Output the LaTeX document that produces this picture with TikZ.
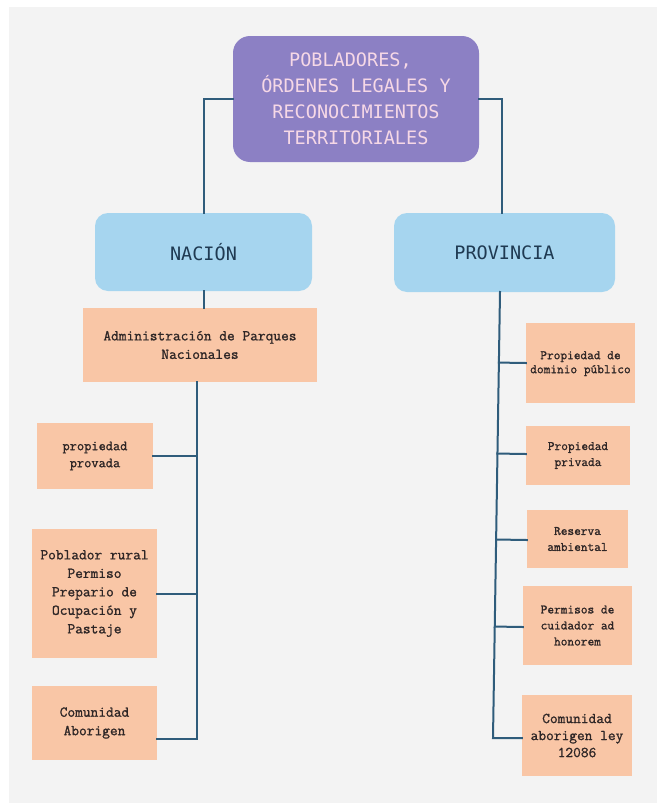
\documentclass[tikz,border=0pt]{standalone}
\usepackage{fontspec}
\usetikzlibrary{calc}
\newfontfamily\headfont{DejaVu Sans Mono}
\newfontfamily\boxfont{Latin Modern Mono}[FakeBold=1.2]
\definecolor{bggray}{HTML}{F3F3F3}
\definecolor{purplebox}{HTML}{8C80C4}
\definecolor{pinktext}{HTML}{F6D8E6}
\definecolor{bluebox}{HTML}{A6D5EF}
\definecolor{navytext}{HTML}{1F3A52}
\definecolor{salmon}{HTML}{F9C6A6}
\definecolor{boxtext}{HTML}{2E2626}
\definecolor{linecol}{HTML}{2F5C7B}
\tikzset{
  topbox/.style={fill=purplebox, rounded corners=17pt, text=pinktext, align=center,
    font=\headfont\fontsize{18.5}{26}\selectfont, inner sep=0pt},
  levelbox/.style={fill=bluebox, rounded corners=13pt, text=navytext, align=center,
    font=\headfont\fontsize{18.5}{22}\selectfont, inner sep=0pt},
  leafbox/.style={fill=salmon, text=boxtext, align=center, inner sep=0pt,
    font=\boxfont\fontsize{15}{18.5}\selectfont},
  smallleaf/.style={leafbox, font=\boxfont\fontsize{13}{16}\selectfont},
  conn/.style={draw=linecol, line width=2pt, line cap=rect}
}
\begin{document}
\begin{tikzpicture}[x=1pt,y=-1pt]
\useasboundingbox (0,0) rectangle (657,803);
\fill[white] (0,0) rectangle (657,803);
\fill[bggray] (9,7) rectangle (657,803);

\coordinate (lt) at (197,382);
\coordinate (lb) at (197,739);
\coordinate (rt) at (500,292);
\coordinate (rb) at (493,738);

\node[topbox, minimum width=246pt, minimum height=126pt] (top) at (356,99)
  {POBLADORES,\phantom{,}\\ÓRDENES LEGALES Y\\RECONOCIMIENTOS\\TERRITORIALES};
\node[levelbox, minimum width=217pt, minimum height=78pt] (nacion) at (203.5,252) {NACIÓN};
\node[levelbox, minimum width=221pt, minimum height=79pt] (provincia) at (504.5,252.5) {PROVINCIA};
\node[leafbox, minimum width=234pt, minimum height=74pt] (admin) at (200,345)
  {Administración de Parques\\Nacionales};

\node[leafbox, minimum width=116pt, minimum height=66pt, font=\boxfont\fontsize{14}{17}\selectfont] (lp) at (95,456) {propiedad\\provada};
\node[leafbox, minimum width=125pt, minimum height=129pt] (lpob) at (94.5,593.5)
  {Poblador rural\\Permiso\\Prepario de\\Ocupación y\\Pastaje};
\node[leafbox, minimum width=125pt, minimum height=74pt] (lcom) at (94.5,723) {Comunidad\\Aborigen};

\node[smallleaf, minimum width=109pt, minimum height=80pt] (r1) at (580.5,363) {\raisebox{5pt}{\begin{tabular}{@{}c@{}}Propiedad de\\[-2pt]dominio público\end{tabular}}};
\node[smallleaf, minimum width=104pt, minimum height=59pt] (r2) at (578,455.5) {Propiedad\\privada};
\node[smallleaf, minimum width=101pt, minimum height=58pt] (r3) at (577.5,539) {Reserva\\ambiental};
\node[smallleaf, minimum width=109pt, minimum height=79pt] (r4) at (577.5,625.5) {Permisos de\\cuidador ad\\honorem};
\node[leafbox, minimum width=110pt, minimum height=81pt, font=\boxfont\fontsize{15}{17}\selectfont] (r5) at (577,735.5) {Comunidad\\aborigen ley\\12086};

% top to level boxes
\draw[conn] (top.west) -| (nacion.north);
\draw[conn] (top.east) -| ([xshift=-2.5pt]provincia.north);
% nacion to admin
\draw[conn] (nacion.south) -- (nacion.south |- admin.north);
% left trunk
\draw[conn] (lt) -- (lb) -- (lb -| lcom.east);
\draw[conn] (lp.east) -- (lp.east -| lt);
\draw[conn] (lpob.east) -- (lpob.east -| lt);
% right trunk
\draw[conn] (rt) -- (rb) -- (rb -| r5.west);
\draw[conn] (r1.west) -- ($(rt)!(r1.west)!(rb)$);
\draw[conn] ([yshift=1.5pt]r2.west) -- ($(rt)!([yshift=1.5pt]r2.west)!(rb)$);
\draw[conn] ([yshift=-1pt]r3.west) -- ($(rt)!([yshift=-1pt]r3.west)!(rb)$);
\draw[conn] ([yshift=-1.5pt]r4.west) -- ($(rt)!([yshift=-1.5pt]r4.west)!(rb)$);
\end{tikzpicture}
\end{document}
